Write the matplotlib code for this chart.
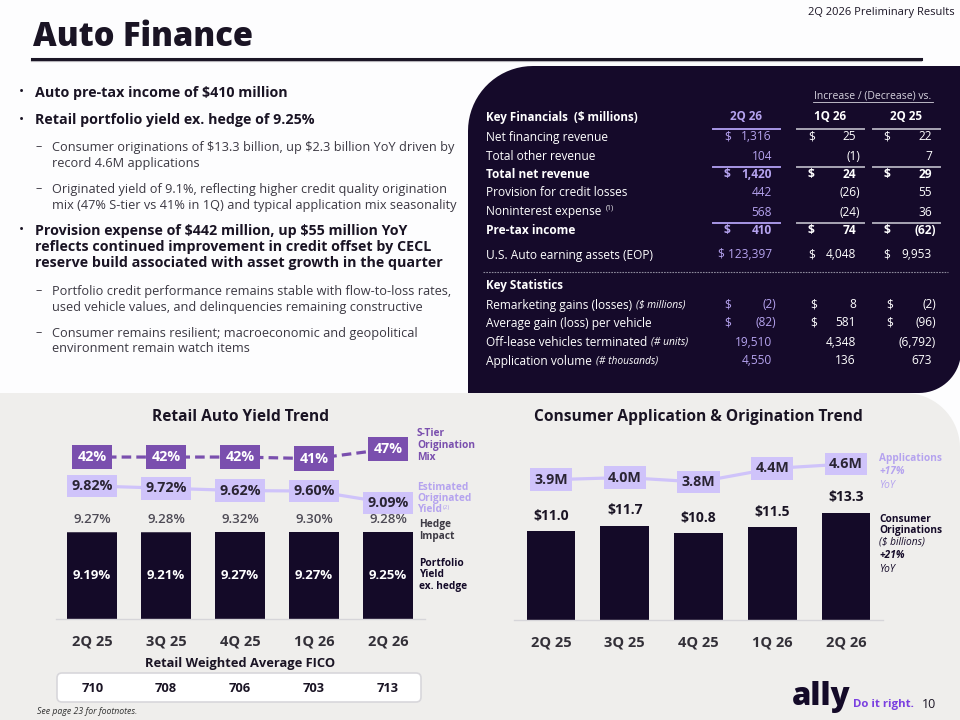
import numpy as np
import matplotlib
matplotlib.use('Agg')
import matplotlib.pyplot as plt
from matplotlib.patches import Polygon, FancyBboxPatch

plt.rcParams['font.family'] = ['Open Sans', 'DejaVu Sans']

# ---------------- data ----------------
quarters = ['2Q 25', '3Q 25', '4Q 25', '1Q 26', '2Q 26']
stier_mix = [42, 42, 42, 41, 47]                  # %
orig_yield = [9.82, 9.72, 9.62, 9.60, 9.09]       # estimated originated yield %
yield_w_hedge = [9.27, 9.28, 9.32, 9.30, 9.28]    # portfolio yield incl. hedge
yield_ex_hedge = [9.19, 9.21, 9.27, 9.27, 9.25]   # portfolio yield ex. hedge
fico = [710, 708, 706, 703, 713]
applications = [3.9, 4.0, 3.8, 4.4, 4.6]          # millions
originations = [11.0, 11.7, 10.8, 11.5, 13.3]     # $ billions

fin_rows = ['Net financing revenue', 'Total other revenue', 'Total net revenue',
            'Provision for credit losses', 'Noninterest expense', 'Pre-tax income',
            'U.S. Auto earning assets (EOP)']
fin_2q26 = ['1,316', '104', '1,420', '442', '568', '410', '123,397']
fin_1q26 = ['25', '(1)', '24', '(26)', '(24)', '74', '4,048']
fin_2q25 = ['22', '7', '29', '55', '36', '(62)', '9,953']
fin_dollar = [True, False, True, False, False, True, True]
fin_bold = [False, False, True, False, False, True, False]

stat_rows = ['Remarketing gains (losses)', 'Average gain (loss) per vehicle',
             'Off-lease vehicles terminated', 'Application volume']
stat_units = ['($ millions)', '', '(# units)', '(# thousands)']
stat_2q26 = ['(2)', '(82)', '19,510', '4,550']
stat_1q26 = ['8', '581', '4,348', '136']
stat_2q25 = ['(2)', '(96)', '(6,792)', '673']
stat_dollar = [True, True, False, False]

# ---------------- colours ----------------
DARK = '#140a28'
PANEL = '#150a2a'
PURPLE = '#7a4fae'
LAV_BOX = '#cfc3fa'
LAV_TXT = '#b5a3ef'
GRAY_BG = '#efeeec'
TXT = '#1a1424'
SUB = '#3b3842'
TS = 8.6   # table font size

fig = plt.figure(figsize=(9.6, 7.2), dpi=100)
fig.patch.set_facecolor('#fdfdfe')
bg = fig.add_axes([0, 0, 1, 1])
bg.set_xlim(0, 960)
bg.set_ylim(720, 0)
bg.axis('off')


def rounded(x0, y0, x1, y1, tl=0, tr=0, br=0, bl=0):
    pts = []
    for (cx, cy, r, a0) in [(x0 + tl, y0 + tl, tl, np.pi), (x1 - tr, y0 + tr, tr, 1.5 * np.pi),
                            (x1 - br, y1 - br, br, 0), (x0 + bl, y1 - bl, bl, 0.5 * np.pi)]:
        t = np.linspace(a0, a0 + np.pi / 2, 20)
        pts += list(zip(cx + r * np.cos(t), cy + r * np.sin(t)))
    return np.array(pts)


# backgrounds
bg.add_patch(Polygon(rounded(0, 393, 960, 721, tr=55), fc=GRAY_BG, ec='none', zorder=0))
bg.add_patch(Polygon(rounded(468, 66, 961, 393, tl=65, br=42), fc=PANEL, ec='none', zorder=1))

# header
bg.text(955, 12, '2Q 2026 Preliminary Results', ha='right', va='center', fontsize=8, color=TXT)
bg.text(33, 37, 'Auto Finance', ha='left', va='center', fontsize=23.5, fontweight='heavy', color=TXT)
bg.plot([32, 921], [61, 61], color='#b9b7bd', lw=1.6, zorder=2)
bg.plot([32, 921], [59, 59], color='#1b1626', lw=2.2, zorder=3)

# bullets
bullets = [
    ('b', 93, ['Auto pre-tax income of $410 million']),
    ('b', 120, ['Retail portfolio yield ex. hedge of 9.25%']),
    ('s', 147, ['Consumer originations of $13.3 billion, up $2.3 billion YoY driven by',
                'record 4.6M applications']),
    ('s', 189, ['Originated yield of 9.1%, reflecting higher credit quality origination',
                'mix (47% S-tier vs 41% in 1Q) and typical application mix seasonality']),
    ('b', 231, ['Provision expense of $442 million, up $55 million YoY',
                'reflects continued improvement in credit offset by CECL',
                'reserve build associated with asset growth in the quarter']),
    ('s', 291, ['Portfolio credit performance remains stable with flow-to-loss rates,',
                'used vehicle values, and delinquencies remaining constructive']),
    ('s', 333, ['Consumer remains resilient; macroeconomic and geopolitical',
                'environment remain watch items']),
]
for kind, y0, lines in bullets:
    if kind == 'b':
        bg.text(19, y0, '•', ha='left', va='center', fontsize=10, color=TXT)
        for i, ln in enumerate(lines):
            bg.text(35, y0 + i * 16, ln.replace('$', r'\$'), ha='left', va='center', fontsize=10.3,
                    fontweight='bold', color=TXT)
    else:
        bg.text(36, y0, '–', ha='left', va='center', fontsize=9, color=SUB)
        for i, ln in enumerate(lines):
            bg.text(52, y0 + i * 16, ln.replace('$', r'\$'), ha='left', va='center', fontsize=9.2,
                    color=SUB)

rend = fig.canvas.get_renderer()
inv = bg.transData.inverted()


def right_of(artist, dx=0):
    bb = artist.get_window_extent(renderer=rend)
    return inv.transform((bb.x1, bb.y0))[0] + dx


# ---------------- table ----------------
W = 'white'
bg.text(873, 96, 'Increase / (Decrease) vs.', ha='center', va='center', fontsize=7.5, color='#d6d3de')
bg.plot([813, 933], [101.5, 101.5], color='#d6d3de', lw=0.6)
bg.text(486, 117, 'Key Financials  ($ millions)', ha='left', va='center', fontsize=8.4,
        fontweight='bold', color=W)
col_hdr = [('2Q 26', 746, LAV_TXT), ('1Q 26', 830, W), ('2Q 25', 906, W)]
for s, x, c in col_hdr:
    bg.text(x, 117, s, ha='center', va='center', fontsize=8.4, fontweight='bold', color=c)

col_lines = [(713, 780, '#a796e6'), (797, 864, '#a9a6b4'), (873, 940, '#a9a6b4')]
for yline in [129, 167, 223]:
    for xa, xb, c in col_lines:
        bg.plot([xa, xb], [yline, yline], color=c, lw=1.4, zorder=3)

fin_y = [137, 156, 174, 193, 212, 230, 255]
cols = [(fin_2q26, 724, 772, LAV_TXT), (fin_1q26, 808, 856, W), (fin_2q25, 883, 932, W)]
for i, lab in enumerate(fin_rows):
    y = fin_y[i]
    wt = 'bold' if fin_bold[i] else 'normal'
    t = bg.text(486, y, lab, ha='left', va='center', fontsize=TS, fontweight=wt, color=W)
    if lab == 'Noninterest expense':
        bg.text(right_of(t, 4), y - 4, '(1)', ha='left', va='center', fontsize=5, color=W)
    for vals, xd, xr, c in cols:
        v = vals[i]
        dx = 4 if v.endswith(')') else 0
        if fin_dollar[i] and len(v) > 6:
            bg.text(xr, y, '$ ' + v, ha='right', va='center', fontsize=TS, fontweight=wt, color=c)
            continue
        if fin_dollar[i]:
            bg.text(xd, y, '$', ha='left', va='center', fontsize=TS, fontweight=wt, color=c)
        bg.text(xr + dx, y, v, ha='right', va='center', fontsize=TS, fontweight=wt, color=c)

bg.plot([483, 948], [272, 272], color='#8d8a9c', lw=0.8, ls=(0, (1.5, 1)), zorder=3)
bg.text(486, 286, 'Key Statistics', ha='left', va='center', fontsize=8.4, fontweight='bold', color=W)
stat_y = [305, 323, 342, 361]
scols = [(stat_2q26, 724, 772, LAV_TXT), (stat_1q26, 810, 856, W), (stat_2q25, 886, 932, W)]
for i, lab in enumerate(stat_rows):
    y = stat_y[i]
    t = bg.text(486, y, lab, ha='left', va='center', fontsize=TS, color=W)
    if stat_units[i]:
        bg.text(right_of(t, 4), y, stat_units[i], ha='left', va='center', fontsize=7.4,
                style='italic', color=W)
    for vals, xd, xr, c in scols:
        v = vals[i]
        if stat_dollar[i]:
            bg.text(xd, y, '$', ha='left', va='center', fontsize=TS, color=c)
        bg.text(xr + (4 if v.endswith(')') else 0), y, v, ha='right', va='center', fontsize=TS, color=c)


# ---------------- charts ----------------
def px_axes(l, t, r, b):
    ax = fig.add_axes([l / 960, 1 - b / 720, (r - l) / 960, (b - t) / 720])
    ax.patch.set_alpha(0)
    return ax


x = np.arange(len(quarters))


def style_bar_axes(ax):
    ax.set_xlim(-0.49, 4.5)
    for s in ['top', 'right', 'left']:
        ax.spines[s].set_visible(False)
    ax.spines['bottom'].set_color('#d6d5d9')
    ax.spines['bottom'].set_linewidth(1)
    ax.set_yticks([])
    ax.set_xticks(x)
    ax.set_xticklabels(quarters, fontsize=10.5, fontweight='bold', color='#333038')
    ax.tick_params(axis='x', length=0, pad=11)


def overlay(ax, lo, hi):
    a = ax.twinx()
    a.set_ylim(lo, hi)
    a.axis('off')
    return a


# left: Retail Auto Yield Trend
bg.text(240, 417, 'Retail Auto Yield Trend', ha='center', va='center', fontsize=11.2,
        fontweight='bold', color=TXT)
ax1 = px_axes(56, 430, 425, 619)
style_bar_axes(ax1)
ax1.set_ylim(0, 20.14)
hedge = np.array(yield_w_hedge) - np.array(yield_ex_hedge)
ax1.bar(x, yield_ex_hedge, width=0.675, color=DARK, zorder=2)
ax1.bar(x, hedge, bottom=yield_ex_hedge, width=0.675, color='#4a4258', zorder=2)
for i in range(len(x)):
    ax1.text(x[i], yield_ex_hedge[i] / 2, f'{yield_ex_hedge[i]:.2f}%', ha='center', va='center',
             fontsize=9.5, fontweight='bold', color='white', zorder=3)
    ax1.annotate(f'{yield_w_hedge[i]:.2f}%', (x[i], yield_w_hedge[i]), xytext=(0, 9),
                 textcoords='offset points', ha='center', va='center', fontsize=9.5,
                 fontweight='semibold', color='#4d4a55')

ay = overlay(ax1, 4.11, 12.22)
ay.plot(x, orig_yield, color=LAV_BOX, lw=2.3, zorder=1, clip_on=False)
for i in range(len(x)):
    ay.text(x[i], orig_yield[i], f'{orig_yield[i]:.2f}%', ha='center', va='center', fontsize=10.3,
            fontweight='bold', color='#2a2433', zorder=3,
            bbox=dict(boxstyle='square,pad=0.3', fc=LAV_BOX, ec='none'))

asx = overlay(ax1, -59.2, 58.9)
asx.plot(x, stier_mix, color=PURPLE, lw=2.3, ls=(0, (3, 1.6)), zorder=1, clip_on=False)
for i in range(len(x)):
    asx.text(x[i], stier_mix[i], f'{stier_mix[i]}%', ha='center', va='center', fontsize=10.3,
             fontweight='bold', color='white', zorder=3,
             bbox=dict(boxstyle='square,pad=0.38', fc=PURPLE, ec='none'))

for j, s in enumerate(['S-Tier', 'Origination', 'Mix']):
    bg.text(417, 434 + j * 11.5, s, ha='left', va='center', fontsize=7.3, fontweight='bold', color=PURPLE)
for j, s in enumerate(['Estimated', 'Originated', 'Yield']):
    t = bg.text(417, 487 + j * 11.5, s, ha='left', va='center', fontsize=7.3, fontweight='bold', color=LAV_TXT)
bg.text(right_of(t, 1), 507.5, '(2)', ha='left', va='center', fontsize=4.5, color=LAV_TXT)
for j, s in enumerate(['Hedge', 'Impact']):
    bg.text(419, 525 + j * 11.5, s, ha='left', va='center', fontsize=7.3, fontweight='bold', color='#3d3a44')
for j, s in enumerate(['Portfolio', 'Yield', 'ex. hedge']):
    bg.text(419, 563 + j * 11.5, s, ha='left', va='center', fontsize=7.3, fontweight='bold', color=DARK)

bg.text(240, 663, 'Retail Weighted Average FICO', ha='center', va='center', fontsize=9.3,
        fontweight='bold', color=TXT)
bg.add_patch(FancyBboxPatch((57, 673), 364, 29, boxstyle='round,pad=0,rounding_size=5',
                            fc='white', ec='#d8d7db', lw=1.2, zorder=2))
for i, v in enumerate(fico):
    xp = ax1.transData.transform((x[i], 0))[0]
    xb = inv.transform((xp, 0))[0]
    bg.text(xb, 688, str(v), ha='center', va='center', fontsize=9.3, fontweight='bold', color=TXT, zorder=3)
bg.text(37, 712, 'See page 23 for footnotes.', ha='left', va='center', fontsize=6.3,
        style='italic', color='#333')

# right: Consumer Application & Origination Trend
bg.text(698, 417, 'Consumer Application & Origination Trend', ha='center', va='center', fontsize=11.2,
        fontweight='bold', color=TXT)
ax2 = px_axes(514, 430, 883, 620)
style_bar_axes(ax2)
ax2.set_xlim(-0.5, 4.5)
ax2.set_ylim(0, 23.54)
ax2.bar(x, originations, width=0.66, color=DARK, zorder=2)
for i in range(len(x)):
    ax2.annotate(f'${originations[i]:.1f}', (x[i], originations[i]), xytext=(0, 11),
                 textcoords='offset points', ha='center', va='center', fontsize=10,
                 fontweight='bold', color=TXT)
aa = overlay(ax2, -2.33, 6.11)
aa.plot(x, applications, color=LAV_BOX, lw=2.3, zorder=1, clip_on=False)
for i in range(len(x)):
    aa.text(x[i], applications[i], f'{applications[i]:.1f}M', ha='center', va='center', fontsize=10.3,
            fontweight='bold', color='#2a2433', zorder=3,
            bbox=dict(boxstyle='square,pad=0.3', fc=LAV_BOX, ec='none'))

bg.text(879, 458, 'Applications', ha='left', va='center', fontsize=7.3, fontweight='bold', color=LAV_TXT)
bg.text(879, 472, '+17%', ha='left', va='center', fontsize=7.3, fontweight='bold', style='italic', color=LAV_TXT)
bg.text(879, 485, 'YoY', ha='left', va='center', fontsize=7.3, style='italic', color=LAV_TXT)
bg.text(879, 519, 'Consumer', ha='left', va='center', fontsize=7.3, fontweight='bold', color=DARK)
bg.text(879, 531, 'Originations', ha='left', va='center', fontsize=7.3, fontweight='bold', color=DARK)
bg.text(879, 542, '($ billions)', ha='left', va='center', fontsize=7.3, style='italic', color=DARK)
bg.text(879, 556, '+21%', ha='left', va='center', fontsize=7.3, fontweight='bold', style='italic', color=DARK)
bg.text(879, 569, 'YoY', ha='left', va='center', fontsize=7.3, style='italic', color=DARK)

# logo and page number
bg.text(792, 705, 'ally', ha='left', va='baseline', fontsize=22.5, fontweight='heavy', color=DARK)
bg.text(853, 704, 'Do it right.', ha='left', va='center', fontsize=8.2, fontweight='bold', color='#7a3fe0')
bg.text(922, 704, '10', ha='left', va='center', fontsize=9, color=TXT)

fig.savefig('out.png', dpi=100, facecolor=fig.get_facecolor())
